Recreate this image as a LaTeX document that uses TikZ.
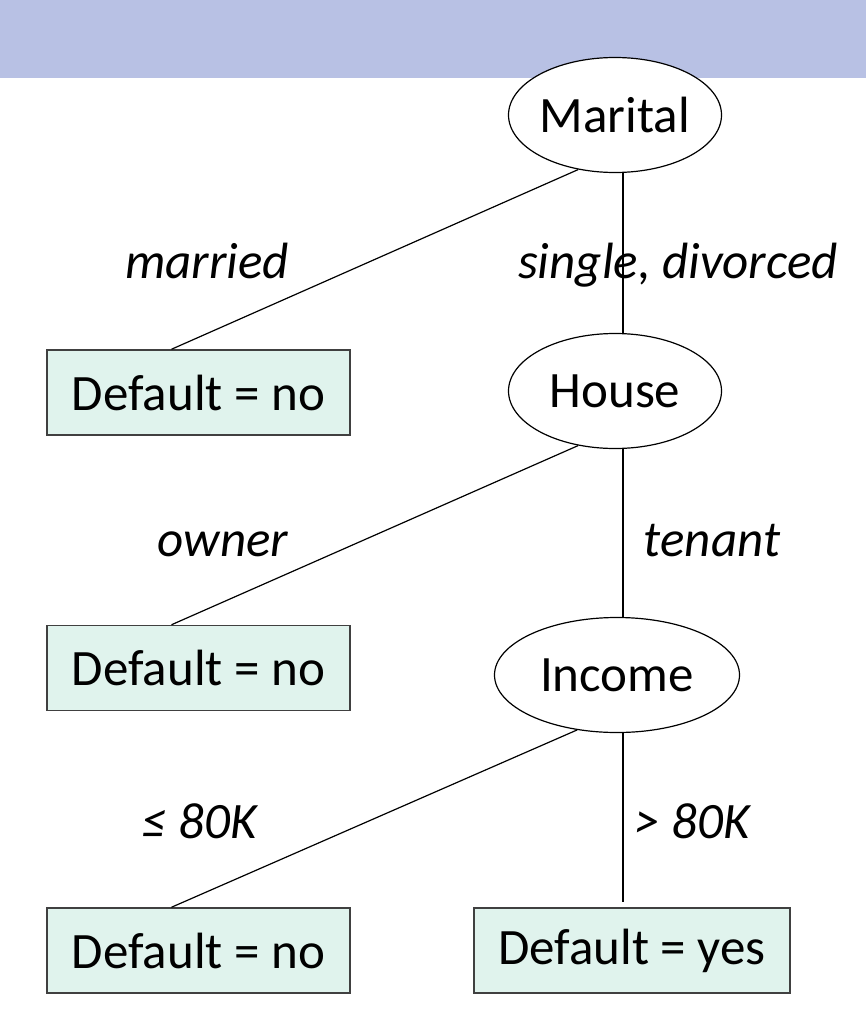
\documentclass[tikz,border=0pt]{standalone}
\usepackage{fontspec}
\setmainfont{Carlito}
\usetikzlibrary{shapes.geometric}
\definecolor{bandblue}{HTML}{B8C1E4}
\definecolor{leafgreen}{HTML}{E0F3ED}

\begin{document}
\begin{tikzpicture}[x=1pt, y=-1pt,
  every node/.style={font=\fontsize{51}{61}\selectfont, inner sep=0pt},
  split/.style={ellipse, draw, line width=1.2pt, fill=white, minimum height=115pt},
  leaf/.style={rectangle, draw=black!75, line width=1.5pt, fill=leafgreen, minimum height=85pt},
  branch/.style={font=\fontsize{51}{61}\selectfont\itshape, anchor=base},
  edge/.style={line width=1.2pt}]
\def\leafx{198.5}
\def\lefty{-27pt}

\useasboundingbox (0,0) rectangle (866,1036);
\fill[bandblue] (0,0) rectangle (866,78);

% splits
\node[split, minimum width=213pt] (marital) at (615,115) {Marital};
\node[split, minimum width=213pt] (house) at (615,391) {House};
\node[split, minimum width=245pt] (income) at (617,675) {Income};

% leaves
\node[leaf, minimum width=303pt] (no1) at (\leafx,392.5) {Default = no};
\node[leaf, minimum width=303pt] (no2) at (\leafx,668) {Default = no};
\node[leaf, minimum width=303pt] (no3) at (\leafx,950.5) {Default = no};
\node[leaf, minimum width=316pt] (yes) at (632,950.5) {Default = yes};

\draw[edge] (marital.-124) -- ([xshift=\lefty]no1.north);
\draw[edge] ([xshift=8pt]marital.south) -- ([xshift=8pt]house.north);
\draw[edge] (house.-124) -- ([xshift=\lefty]no2.north);
\draw[edge] ([xshift=8pt]house.south) -- ([xshift=6pt]income.north);
\draw[edge] (income.-126) -- ([xshift=\lefty]no3.north);
\draw[edge] ([xshift=6pt]income.south) -- ([xshift=-9pt,yshift=5pt]yes.north);

% branch labels
\node[branch] (married) at (207,278) {married};
\node[branch] (singdiv) at (678,278) {single, divorced};
\node[branch] (owner) at (223,556) {owner};
\node[branch] (tenant) at (712,556) {tenant};
\node[branch] (low) at (199,838) {≤ 80K};
\node[branch] (high) at (692,838) {> 80K};
\end{tikzpicture}
\end{document}
